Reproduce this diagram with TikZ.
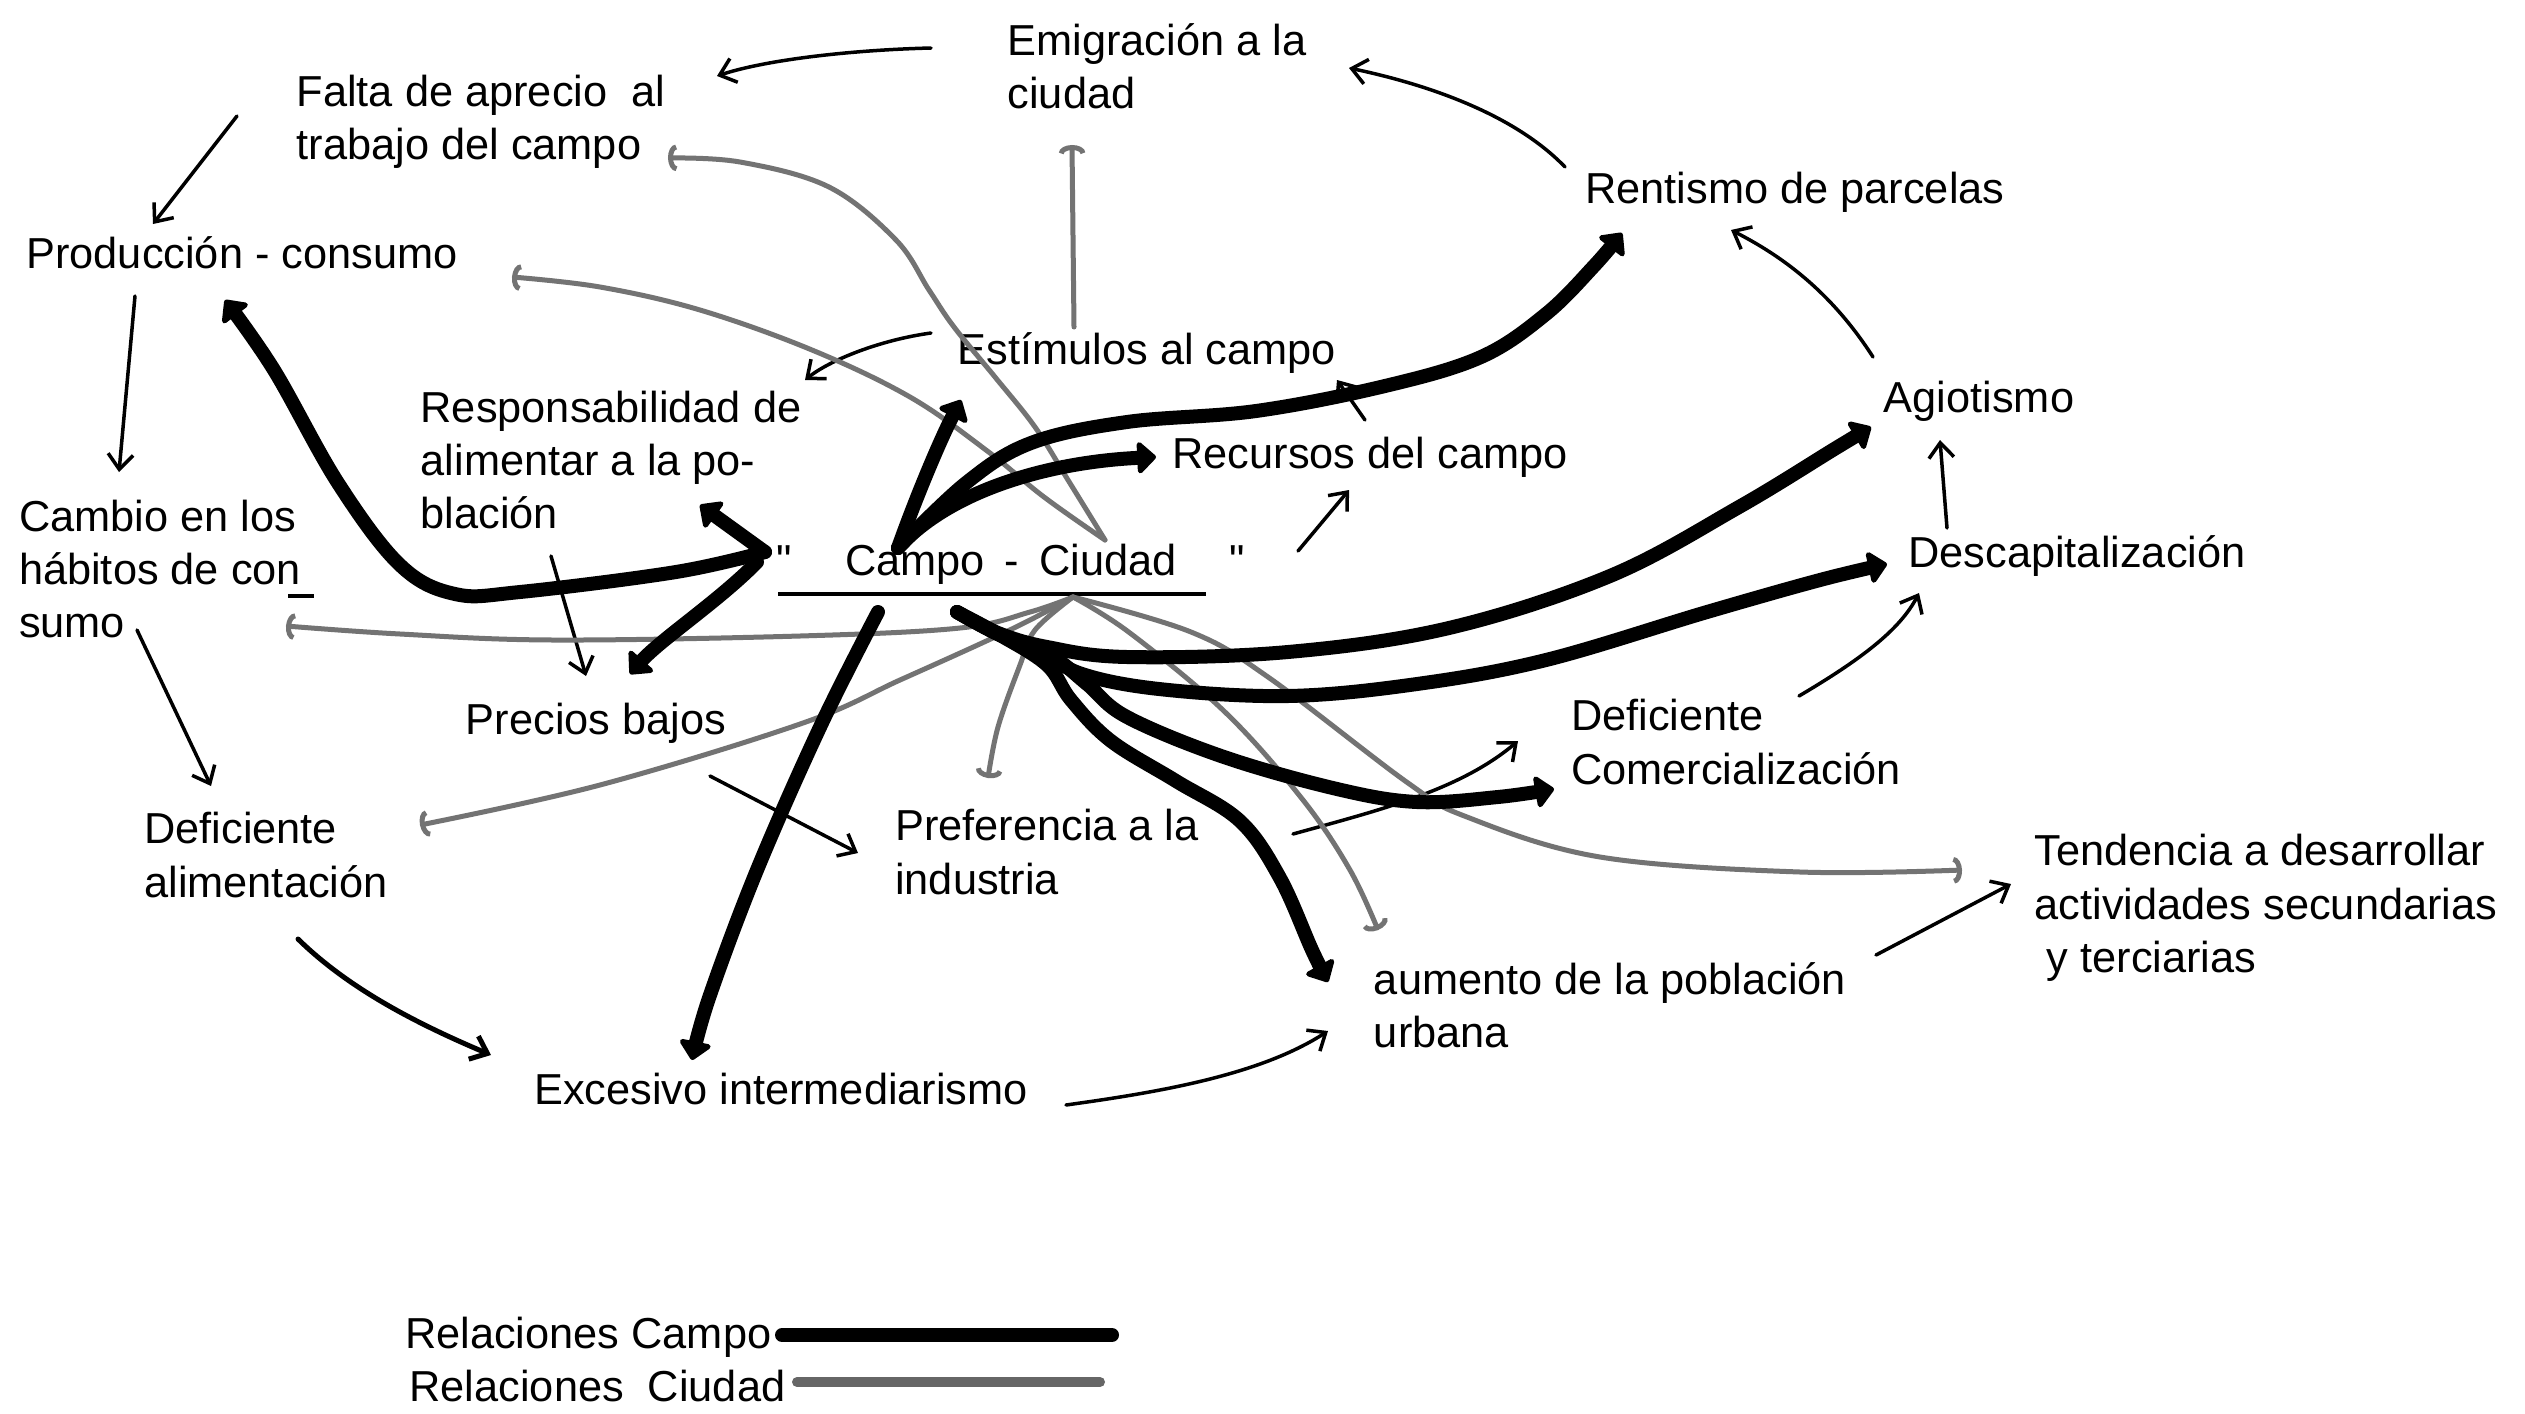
\documentclass[tikz,border=0pt]{standalone}
\usepackage{fontspec}
\setmainfont{Liberation Sans}
\usetikzlibrary{arrows.meta}
\begin{document}
\begin{tikzpicture}[x=0.3pt,y=-0.3pt,
  lbl/.style={font=\fontsize{13}{16}\selectfont, align=left, inner sep=0pt},
  thinarr/.style={line width=1.05pt, line cap=round, -{Straight Barb[length=4.5pt,width=7.5pt]}},
  campo/.style={line width=4.2pt, line cap=round, line join=round, -{Triangle[length=6pt,width=11pt,round]}},
  ciudad/.style={line width=1.5pt, draw=black!55, line cap=round, line join=round, -{Arc Barb[length=2.5pt,width=8pt]}},
  legcampo/.style={line width=4.2pt, line cap=round},
  legciudad/.style={line width=3pt, draw=black!60, line cap=round}
]
\fill[white] (0,0) rectangle (2525,1414);
\useasboundingbox (0,0) rectangle (2525,1414);

% ---------- text nodes ----------
\node[lbl] (emig) at (1157,66) {Emigración a la\\ciudad};
\node[lbl] (falta) at (481,122) {Falta de aprecio\ \ al\\trabajo del campo};
\node[lbl] (prod) at (242,253) {Producción - consumo};
\node[lbl] (rent) at (1795,192) {Rentismo de parcelas};
\node[lbl] (estim) at (1147,353) {Estímulos al campo};
\node[lbl] (resp) at (611,460) {Responsabilidad de\\alimentar a la po-\\blación};
\node[lbl] (agio) at (1979,401) {Agiotismo};
\node[lbl] (recur) at (1370,457) {Recursos del campo};
\node[lbl] (cambio) at (160,569) {Cambio en los\\hábitos de con\\sumo};
\node[lbl] (campo) at (1011,564) {\textquotedbl\hspace{16pt}Campo\hspace{6pt}-\hspace{6pt}Ciudad\hspace{16pt}\textquotedbl};
\node[lbl] (descap) at (2077,556) {Descapitalización};
\node[lbl] (precios) at (596,723) {Precios bajos};
\node[lbl] (defcom) at (1736,742) {Deficiente\\Comercialización};
\node[lbl] (defali) at (266,855) {Deficiente\\alimentación};
\node[lbl] (pref) at (1047,852) {Preferencia a la\\industria};
\node[lbl] (tend) at (2266,908) {Tendencia a desarrollar\\actividades secundarias\\\ y terciarias};
\node[lbl] (aum) at (1610,1005) {aumento de la población\\urbana};
\node[lbl] (exc) at (781,1089) {Excesivo intermediarismo};
\node[lbl, anchor=east] (legc) at (772,1337) {Relaciones Campo};
\node[lbl, anchor=east] (legd) at (786,1386) {Relaciones\ \ Ciudad};

% underline and hyphen mark
\coordinate (ul1) at (778,594); \coordinate (ul2) at (1206,594);
\draw[line width=1.1pt] (ul1) -- (ul2);
\coordinate (cd1) at (288,596); \coordinate (cd2) at (314,596);
\draw[line width=1pt] (cd1) -- (cd2);

% ---------- endpoints ----------
\coordinate (t1s) at (931,48);   \coordinate (t1e) at (717,76);
\coordinate (t2s) at (1565,167); \coordinate (t2e) at (1349,68);
\coordinate (t3s) at (237,116);  \coordinate (t3e) at (153,224);
\coordinate (t4s) at (135,296);  \coordinate (t4e) at (119,472);
\coordinate (t5s) at (137,630);  \coordinate (t5e) at (211,786);
\coordinate (t6s) at (298,939);  \coordinate (t6e) at (491,1055);
\coordinate (t7s) at (1066,1105);\coordinate (t7e) at (1328,1031);
\coordinate (t8s) at (1876,955); \coordinate (t8e) at (2011,884);
\coordinate (t9s) at (1293,834); \coordinate (t9e) at (1518,741);
\coordinate (t10s) at (1799,696);\coordinate (t10e) at (1919,593);
\coordinate (t11s) at (1947,528);\coordinate (t11e) at (1940,440);
\coordinate (t12s) at (1873,357);\coordinate (t12e) at (1731,230);
\coordinate (t13s) at (931,333); \coordinate (t13e) at (805,380);
\coordinate (t14s) at (551,556); \coordinate (t14e) at (586,676);
\coordinate (t15s) at (710,776); \coordinate (t15e) at (858,853);
\coordinate (t16s) at (1298,551);\coordinate (t16e) at (1349,490);
\coordinate (t17s) at (1365,420);\coordinate (t17e) at (1337,380);

\coordinate (lq) at (765,552);
\coordinate (cc) at (898,548);
\coordinate (cb) at (878,612);
\coordinate (bund) at (957,612);
\coordinate (k1e) at (225,300);
\coordinate (k2e) at (700,505);
\coordinate (k3s) at (757,562); \coordinate (k3e) at (630,674);
\coordinate (k4e) at (961,400);
\coordinate (k5e) at (1156,457);
\coordinate (k6e) at (1622,233);
\coordinate (k7e) at (692,1060);
\coordinate (k8e) at (1871,427);
\coordinate (k9e) at (1887,564);
\coordinate (k10e) at (1554,789);
\coordinate (k11e) at (1328,982);

\coordinate (cpeak) at (1073,597);
\coordinate (ctop) at (1105,540);
\coordinate (g1e) at (668,158);
\coordinate (g2e) at (512,277);
\coordinate (g3s) at (1074,327); \coordinate (g3e) at (1072,145);
\coordinate (g4e) at (286,626);
\coordinate (g5e) at (420,825);
\coordinate (g6e) at (988,778);
\coordinate (g7e) at (1378,930);
\coordinate (g8e) at (1962,870);

% ---------- thin arrows ----------
\draw[thinarr] (t1s) .. controls (850,50) and (765,60) .. (t1e);
\draw[thinarr] (t2s) .. controls (1515,115) and (1430,85) .. (t2e);
\draw[thinarr] (t3s) -- (t3e);
\draw[thinarr] (t4s) -- (t4e);
\draw[thinarr] (t5s) -- (t5e);
\draw[thinarr, line width=1.5pt] (t6s) .. controls (350,990) and (420,1025) .. (t6e);
\draw[thinarr] (t7s) .. controls (1160,1092) and (1260,1075) .. (t7e);
\draw[thinarr] (t8s) -- (t8e);
\draw[thinarr] (t9s) .. controls (1380,810) and (1460,790) .. (t9e);
\draw[thinarr] (t10s) .. controls (1860,660) and (1900,630) .. (t10e);
\draw[thinarr] (t11s) -- (t11e);
\draw[thinarr] (t12s) .. controls (1830,290) and (1780,255) .. (t12e);
\draw[thinarr] (t13s) .. controls (880,340) and (830,360) .. (t13e);
\draw[thinarr] (t14s) -- (t14e);
\draw[thinarr] (t15s) -- (t15e);
\draw[thinarr] (t16s) -- (t16e);
\draw[thinarr] (t17s) -- (t17e);

% ---------- gray (Ciudad) ----------
\draw[ciudad] plot[smooth,tension=0.6] coordinates {(ctop) (1068,480) (1035,427) (995,377) (954,327) (929,290) (896,240) (829,187) (740,162) (g1e)};
\draw[ciudad] plot[smooth,tension=0.6] coordinates {(ctop) (1044,497) (986,450) (910,397) (812,350) (700,310) (600,287) (g2e)};
\draw[ciudad] (g3s) -- (g3e);
\draw[ciudad] plot[smooth,tension=0.6] coordinates {(cpeak) (1030,612) (960,628) (800,636) (553,640) (400,634) (g4e)};
\draw[ciudad] plot[smooth,tension=0.6] coordinates {(cpeak) (1030,620) (982,643) (900,680) (803,723) (600,785) (g5e)};
\draw[ciudad] plot[smooth,tension=0.6] coordinates {(cpeak) (1035,630) (1020,665) (998,727) (g6e)};
\draw[ciudad] plot[smooth,tension=0.6] coordinates {(cpeak) (1130,633) (1226,713) (1303,800) (1350,870) (g7e)};
\draw[ciudad] plot[smooth,tension=0.6] coordinates {(cpeak) (1191,632) (1268,677) (1408,783) (1467,817) (1600,857) (1800,872) (g8e)};

% ---------- thick (Campo) ----------
\draw[campo] plot[smooth,tension=0.6] coordinates {(lq) (676,572) (520,592) (455,594) (400,565) (338,483) (274,370) (k1e)};
\draw[campo] (lq) -- (k2e);
\draw[campo] (k3s) .. controls (720,600) and (660,640) .. (k3e);
\draw[campo] (cc) .. controls (915,500) and (940,440) .. (k4e);
\draw[campo] (cc) .. controls (950,490) and (1050,462) .. (k5e);
\draw[campo] plot[smooth,tension=0.6] coordinates {(cc) (966,483) (1031,443) (1127,422) (1256,411) (1385,386) (1481,357) (1546,314) (1594,266) (k6e)};
\draw[campo] plot[smooth,tension=0.6] coordinates {(cb) (821,725) (757,870) (709,998) (k7e)};
\draw[campo] plot[smooth,tension=0.6] coordinates {(bund) (998,633) (1047,647) (1127,657) (1288,652) (1449,628) (1610,576) (1739,507) (1836,448) (k8e)};
\draw[campo] plot[smooth,tension=0.6] coordinates {(bund) (1000,635) (1040,648) (1079,673) (1159,689) (1288,696) (1417,684) (1546,660) (1707,612) (1820,580) (k9e)};
\draw[campo] plot[smooth,tension=0.6] coordinates {(bund) (1000,635) (1050,655) (1087,684) (1127,717) (1224,757) (1337,789) (1417,802) (1498,797) (k10e)};
\draw[campo] plot[smooth,tension=0.6] coordinates {(bund) (1000,635) (1047,665) (1071,700) (1111,741) (1176,781) (1240,821) (1280,878) (1312,950) (k11e)};

% ---------- legend ----------
\coordinate (lc1) at (782,1335); \coordinate (lc2) at (1112,1335);
\coordinate (ld1) at (797,1382); \coordinate (ld2) at (1100,1382);
\draw[legcampo] (lc1) -- (lc2);
\draw[legciudad] (ld1) -- (ld2);
\end{tikzpicture}
\end{document}
